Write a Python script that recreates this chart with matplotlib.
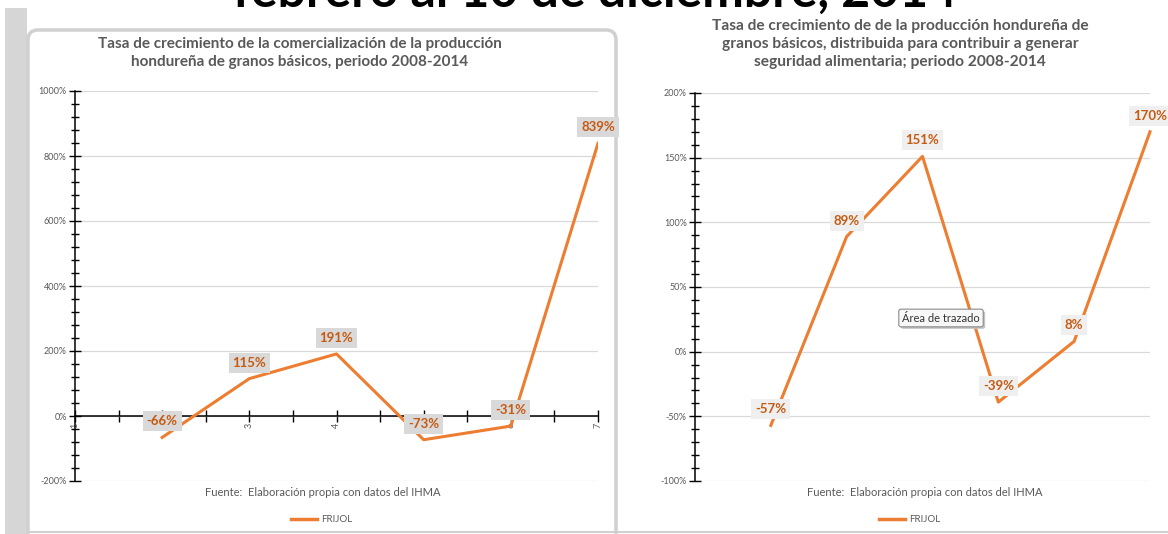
import matplotlib
matplotlib.use('Agg')
import matplotlib.pyplot as plt
from matplotlib.lines import Line2D
from matplotlib.patches import FancyBboxPatch, Rectangle
from matplotlib.ticker import MultipleLocator

# data
categories = [1, 2, 3, 4, 5, 6, 7]
x_labels = ['1', '2', '3', '4', '5', '6', '7']
points_x = [2, 3, 4, 5, 6, 7]
comercializacion = [-66, 115, 191, -73, -31, 839]
distribuida = [-57, 89, 151, -39, 8, 170]
left_yticks = [-200, 0, 200, 400, 600, 800, 1000]
right_yticks = [-100, -50, 0, 50, 100, 150, 200]

title_top = 'febrero al 10 de diciembre, 2014'
title_left = 'Tasa de crecimiento de la comercialización de la producción\nhondureña de granos básicos, periodo 2008-2014'
title_right = ('Tasa de crecimiento de de la producción hondureña de\n'
               'granos básicos, distribuida para contribuir a generar\n'
               'seguridad alimentaria; periodo 2008-2014')
fuente = 'Fuente:  Elaboración propia con datos del IHMA'
serie = 'FRIJOL'

W, H = 1168, 534
ORANGE = '#ED7D31'
LABEL = '#C55A11'
GRAY = '#595959'

plt.rcParams['font.family'] = ['Lato', 'DejaVu Sans']

fig = plt.figure(figsize=(W / 100, H / 100), dpi=100)


def fx(x):
    return x / W


def fy(y):
    return 1 - y / H


# background pieces in pixel coordinates
bg = fig.add_axes([0, 0, 1, 1], zorder=-5)
bg.set_xlim(0, W)
bg.set_ylim(H, 0)
bg.axis('off')
bg.add_patch(Rectangle((5, 8), 22, H, fc='#d6d6d6', ec='none'))
bg.add_patch(FancyBboxPatch((28, 30), 588, 520, boxstyle='round,pad=0,rounding_size=10',
                            fc='white', ec='#d0d0d0', lw=2.5))
bg.plot([28, W], [532, 532], color='#d0d0d0', lw=1.5)

fig.text(fx(595), fy(7), title_top, ha='center', va='baseline', fontsize=36,
         fontweight='bold', color='black')


def style_axes(ax, yticks, minor):
    ax.set_xlim(1, 7)
    ax.set_ylim(yticks[0], yticks[-1])
    ax.set_yticks(yticks)
    ax.set_yticklabels(['%d%%' % t for t in yticks])
    ax.yaxis.set_minor_locator(MultipleLocator(minor))
    ax.tick_params(axis='y', which='major', direction='inout', length=8, width=1,
                   labelsize=6.5, labelcolor=GRAY, pad=2)
    ax.tick_params(axis='y', which='minor', direction='inout', length=6, width=1)
    ax.yaxis.grid(True, color='#d9d9d9', lw=0.9)
    ax.set_axisbelow(True)
    for s in ['top', 'right']:
        ax.spines[s].set_visible(False)
    ax.spines['left'].set_linewidth(1.1)
    ax.patch.set_alpha(0)


def add_labels(ax, xs, ys, face):
    for x, v in zip(xs, ys):
        ax.annotate('%d%%' % v, (x, v), xytext=(0, 16), textcoords='offset pixels',
                    ha='center', va='center', fontsize=9.5, fontweight='bold', color=LABEL,
                    bbox=dict(boxstyle='square,pad=0.3', fc=face, ec='none'),
                    annotation_clip=False, zorder=5)


# left chart
ax1 = fig.add_axes([fx(75), fy(481), fx(598) - fx(75), fy(91) - fy(481)])
style_axes(ax1, left_yticks, 40)
ax1.spines['bottom'].set_position(('data', 0))
ax1.spines['bottom'].set_linewidth(1.1)
ax1.set_xticks(categories)
ax1.set_xticklabels(x_labels, rotation=90)
ax1.xaxis.set_minor_locator(MultipleLocator(0.5))
ax1.tick_params(axis='x', which='both', direction='inout', length=8, width=1,
                labelsize=6.5, labelcolor=GRAY, pad=1)
ax1.plot(points_x, comercializacion, color=ORANGE, lw=2.2, zorder=3)
add_labels(ax1, points_x, comercializacion, '#d9d9d9')

fig.text(fx(300), fy(53), title_left, ha='center', va='center', fontsize=11,
         fontweight='bold', color=GRAY, linespacing=1.4)
fig.text(fx(323), fy(492), fuente, ha='center', va='center', fontsize=8, color=GRAY)

# right chart
ax2 = fig.add_axes([fx(695), fy(481), fx(1150) - fx(695), fy(93) - fy(481)])
style_axes(ax2, right_yticks, 10)
ax2.spines['bottom'].set_visible(False)
ax2.set_xticks([])
ax2.plot(points_x, distribuida, color=ORANGE, lw=2.2, zorder=3, clip_on=False)
add_labels(ax2, points_x, distribuida, '#efefef')

fig.text(fx(900), fy(44), title_right, ha='center', va='center', fontsize=11.2,
         fontweight='bold', color=GRAY, linespacing=1.35)
fig.text(fx(925), fy(492), fuente, ha='center', va='center', fontsize=8, color=GRAY)

# legends
handle = [Line2D([0], [0], color=ORANGE, lw=2.5)]
for ax, cx in [(ax1, 322), (ax2, 910)]:
    ax.legend(handle, [serie], loc='center', bbox_to_anchor=(fx(cx), fy(520)),
              bbox_transform=fig.transFigure, frameon=False, fontsize=7,
              labelcolor=GRAY, handlelength=2.6, handletextpad=0.5)

# tooltip over the plot area, with a soft shadow
fig.text(fx(943), fy(320), 'Área de trazado', ha='center', va='center', fontsize=8,
         color='none', zorder=9,
         bbox=dict(boxstyle='round,pad=0.3,rounding_size=0.2', fc='#c4c4c4', ec='none'))
fig.text(fx(941), fy(318), 'Área de trazado', ha='center', va='center', fontsize=8,
         color='#333333', zorder=10,
         bbox=dict(boxstyle='round,pad=0.3,rounding_size=0.2', fc='#f7f7f7', ec='#8a8a8a', lw=0.8))

fig.savefig('out.png', dpi=100)
